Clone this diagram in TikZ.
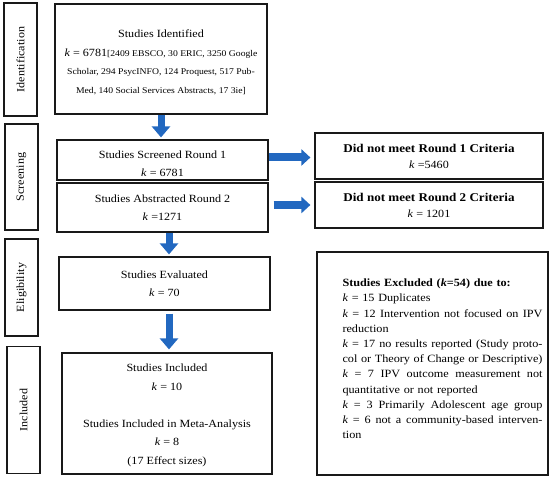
\documentclass[tikz,border=0pt]{standalone}
\usepackage{fontspec}
\setmainfont{Liberation Serif}[FakeStretch=1.1]
\usetikzlibrary{arrows.meta}
\definecolor{arrowblue}{RGB}{34,104,192}
\definecolor{boxline}{RGB}{25,25,25}
\newcommand\fmain{\fontsize{11}{18.5}\selectfont}
\newcommand\fsmall{\fontsize{8.8}{18.5}\selectfont}
\newcommand\fright{\fontsize{11}{16}\selectfont}
\newcommand\fbig{\fontsize{11.9}{16}\selectfont}
\newcommand\fexcl{\fontsize{11.1}{15.2}\selectfont}
\newcommand\jl[1]{{\spaceskip=0pt\xspaceskip=0pt\makebox[200pt][s]{#1}}}
\newcommand\kk{\textit{k}}
\begin{document}
\begin{tikzpicture}[x=1pt,y=-1pt,
  box/.style={draw=boxline,line width=1.2pt,inner sep=0pt,align=center,font=\fmain},
  txt/.style={inner sep=0pt,align=center,font=\fmain},
  rbox/.style={box,font=\fright},
  side/.style={draw=boxline,line width=1.2pt,inner sep=0pt,rotate=90,font=\fontsize{11}{12}\selectfont},
  barrow/.style={draw=arrowblue,line width=7pt,-{Triangle[width=18pt,length=11pt]}},
  barrowr/.style={draw=arrowblue,line width=8pt,-{Triangle[width=16pt,length=9pt]}}]
\useasboundingbox (0,0) rectangle (550,481);
% side labels
\node[side,minimum width=113pt,minimum height=33pt] (sideI) at (20.5,59.5) {Identification};
\node[side,minimum width=106pt,minimum height=33pt] (sideS) at (21.5,177) {Screening};
\node[side,minimum width=97pt,minimum height=33pt] (sideE) at (21.5,287.5) {Eligibility};
\node[side,minimum width=127pt,minimum height=33pt] (sideN) at (23.5,410) {Included};
% main boxes
\node[box,minimum width=212pt,minimum height=110pt] (ident) at (161,59) {};
\node[txt] (identtext) at (161,62.5)
  {Studies Identified\\
   \kk{} = 6781{\fsmall[2409 EBSCO, 30 ERIC, 3250 Google}\\
   {\fsmall Scholar, 294 PsycINFO, 124 Proquest, 517 Pub-}\\
   {\fsmall Med, 140 Social Services Abstracts, 17 3ie]}};
\node[box,minimum width=211pt,minimum height=40pt] (scr1) at (162.5,160) {};
\node[txt] (scr1text) at (162.5,163.5) {Studies Screened Round 1\\ \kk{} = 6781};
\node[box,minimum width=211pt,minimum height=49pt] (abs2) at (162.5,207.5)
  {Studies Abstracted Round 2\\ \kk{} =1271};
\node[box,minimum width=211pt,minimum height=53pt] (eval) at (164.5,283.5)
  {Studies Evaluated\\ \kk{} = 70};
\node[box,minimum width=210pt,minimum height=121pt] (incl) at (167,413.5) {};
\node[txt] (incltext) at (167,415.5)
  {Studies Included\\ \kk{} = 10\\[18.5pt]
   Studies Included in Meta-Analysis\\ \kk{} = 8\\ (17 Effect sizes)};
% right boxes
\node[rbox,minimum width=228pt,minimum height=46pt] (r1) at (429,156)
  {{\fbig\textbf{Did not meet Round 1 Criteria}}\\ \kk{} =5460};
\node[rbox,minimum width=228pt,minimum height=46pt] (r2) at (429,205)
  {{\fbig\textbf{Did not meet Round 2 Criteria}}\\ \kk{} = 1201};
\node[draw=boxline,line width=1.2pt,minimum width=231pt,minimum height=223pt] (excl) at (432.5,363.5) {};
\node[inner sep=0pt,text width=200pt,align=left,font=\fexcl] (excltext) at (442.5,359)
  {\textbf{Studies Excluded (\textit{k}=54) due to:}\\
   \kk{} = 15 Duplicates\\
   \jl{\kk{} = 12 Intervention not focused on IPV}\\
   reduction\\
   \jl{\kk{} = 17 no results reported (Study proto-}\\
   \jl{col or Theory of Change or Descriptive)}\\
   \jl{\kk{} = 7 IPV outcome measurement not}\\
   quantitative or not reported\\
   \jl{\kk{} = 3 Primarily Adolescent age group}\\
   \jl{\kk{} = 6 not a community-based interven-}\\
   tion};
% arrows
\draw[barrow,shorten <=0.5pt,shorten >=2pt] (ident.south) -- (ident.south |- scr1.north);
\draw[barrow,shorten <=0.5pt,shorten >=2pt] ([xshift=6.5pt]abs2.south) -- ([xshift=6.5pt]abs2.south |- eval.north);
\draw[barrow,shorten <=3pt,shorten >=3pt] ([xshift=4.5pt]eval.south) -- ([xshift=4.5pt]eval.south |- incl.north);
\draw[barrowr,shorten >=4pt] ([yshift=-1.5pt]scr1.east |- r1.west) -- ([yshift=-1.5pt]r1.west);
\draw[barrowr,shorten <=5pt,shorten >=4pt] (abs2.east |- r2.west) -- (r2.west);
\end{tikzpicture}
\end{document}
